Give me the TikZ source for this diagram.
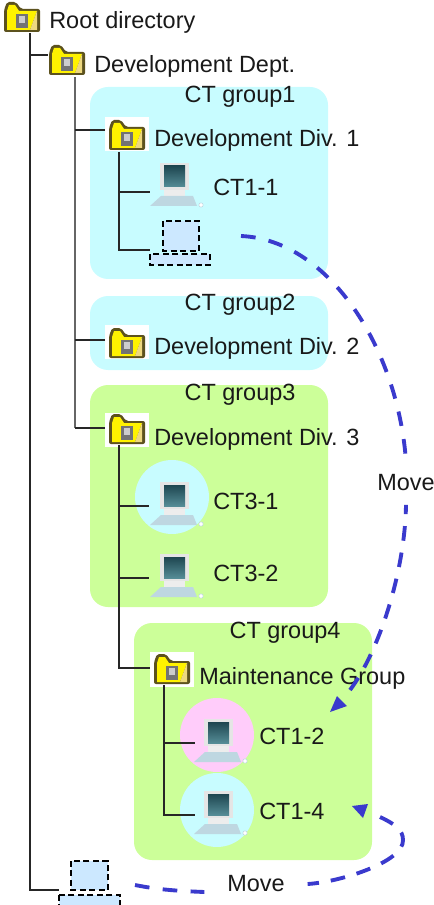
\documentclass[tikz,border=0pt]{standalone}
\usepackage{fontspec}
\setmainfont{Liberation Sans}
\usetikzlibrary{arrows.meta}
\definecolor{cyanreg}{RGB}{200,252,255}
\definecolor{greenreg}{RGB}{204,255,153}
\definecolor{pinkreg}{RGB}{255,204,250}
\definecolor{ghost}{RGB}{204,232,255}
\definecolor{movecol}{RGB}{58,58,205}
\definecolor{folderedge}{RGB}{92,82,30}
\definecolor{screentop}{RGB}{30,70,80}
\definecolor{screenbot}{RGB}{85,140,150}
\definecolor{keyb}{RGB}{190,215,225}
\tikzset{
  x=0.75pt,y=-0.75pt,
  region/.style={rounded corners=13.5pt,draw=none},
  badge/.style={circle,minimum size=55.5pt,inner sep=0,draw=none},
  label/.style={font=\fontsize{17.6}{20}\selectfont,anchor=west,inner sep=0,text=black!90},
  grouplabel/.style={font=\fontsize{17.6}{20}\selectfont,inner sep=0,text=black!90},
  anchorbox/.style={minimum width=33pt,minimum height=26pt,inner sep=0,draw=none},
  tree/.style={draw=black!85,line width=1.5pt},
  treegray/.style={draw=black!60,line width=2.2pt},
  ghostline/.style={draw=black,line width=1.1pt,dash pattern=on 4.5pt off 2.6pt,fill=ghost},
  movepath/.style={draw=movecol,line width=2.9pt,dash pattern=on 11pt off 10pt},
  movepathb/.style={draw=movecol,line width=2.9pt,dash pattern=on 11pt off 9pt},
  folder/.pic={
    \fill[folderedge,rounded corners=1.5pt] (-18,-10) -- (-15,-18) -- (-6,-18) -- (-1,-11) -- (18,-11) -- (18,12) -- (-18,12) -- cycle;
    \fill[yellow] (-15,-9) -- (-13,-15) -- (-7,-15) -- (-3,-9) -- (15,-9) -- (8,10) -- (-15,10) -- cycle;
    \fill[yellow!50!brown!60!white] (15,-9) -- (15,10) -- (8,10) -- cycle;
    \fill[black!55] (-6,-6) rectangle (6,8);
    \fill[black!20] (-3,-4) rectangle (3,3);
  },
  computer/.pic={
    \fill[black!10] (-15,-24) rectangle (14,3);
    \shade[top color=screentop,bottom color=screenbot] (-11,-21) rectangle (10,0);
    \fill[black!7] (-11,3) rectangle (10,9);
    \fill[keyb] (-14,9) -- (18,9) -- (22,19) -- (-25,19) -- cycle;
    \fill[white,draw=keyb] (26,18) circle (2.2);
  },
}
\begin{document}
\begin{tikzpicture}
\useasboundingbox (0,0) rectangle (434,905);
% regions
\fill[region,cyanreg] (90,87) rectangle (328,279);
\fill[region,cyanreg] (90,296) rectangle (328,370);
\fill[region,greenreg] (90,385) rectangle (328,607);
\fill[region,greenreg] (134,623) rectangle (372,860);
\node[badge,fill=cyanreg] (b31) at (172,497) {};
\node[badge,fill=pinkreg] (b12) at (217,735) {};
\node[badge,fill=cyanreg] (b14) at (217,810) {};
% white icon backgrounds
\fill[white] (105,117) rectangle (149,151);
\fill[white] (105,325) rectangle (149,359);
\fill[white] (105,413) rectangle (149,447);
\fill[white] (150,652) rectangle (194,687);
% icon anchors
\node[anchorbox] (root) at (22,20) {};
\node[anchorbox] (dept) at (67,63) {};
\node[anchorbox] (div1) at (127,138) {};
\node[anchorbox] (div2) at (127,346) {};
\node[anchorbox] (div3) at (127,432) {};
\node[anchorbox] (maint) at (172,672) {};
\node[anchorbox] (ct11) at (175,187) {};
\node[anchorbox] (ct31) at (175,506) {};
\node[anchorbox] (ct32) at (175,578) {};
\node[anchorbox] (ct12) at (219,743) {};
\node[anchorbox] (ct14) at (219,815) {};
% tree junctions
\coordinate (ghostA) at (150,250);
\coordinate (ghostB) at (59,890);
\coordinate (t0) at (30,33);
\coordinate (t1) at (75,77);
\coordinate (t2) at (119,152);
\coordinate (t3) at (119,445);
\coordinate (t4) at (164,685);
\coordinate (j1) at (105,130);
\coordinate (j2) at (105,340);
\coordinate (j3) at (105,428);
\coordinate (j4) at (150,668);
\coordinate (j5) at (150,192);
\coordinate (j6) at (149,506);
\coordinate (j7) at (149,578);
\coordinate (j8) at (195,743);
\coordinate (j9) at (195,815);
\coordinate (j0) at (48,55);
% tree
\draw[tree] (t0) -- (t0 |- ghostB) -- (ghostB);
\draw[tree] (t0 |- j0) -- (j0);
\draw[treegray] (t1) -- (t1 |- j3);
\draw[tree] (t1 |- j1) -- (j1);
\draw[tree] (t1 |- j2) -- (j2);
\draw[tree] (t1 |- j3) -- (j3);
\draw[tree] (t2) -- (t2 |- ghostA) -- (ghostA);
\draw[tree] (t2 |- j5) -- (j5);
\draw[tree] (t3) -- (t3 |- j4) -- (j4);
\draw[tree] (t3 |- j6) -- (j6);
\draw[tree] (t3 |- j7) -- (j7);
\draw[tree] (t4) -- (t4 |- j9) -- (j9);
\draw[tree] (t4 |- j8) -- (j8);
% icons
\pic at (root) {folder};
\pic at (dept) {folder};
\pic at (div1) {folder};
\pic at (div2) {folder};
\pic at (div3) {folder};
\pic at (maint) {folder};
\pic at (ct11) {computer};
\pic at (ct31) {computer};
\pic at (ct32) {computer};
\pic at (ct12) {computer};
\pic at (ct14) {computer};
% ghost computers
\draw[ghostline] (163,221) rectangle (199,251);
\draw[ghostline] (150,254) rectangle (210,265);
\draw[ghostline] (71,861) rectangle (108,890);
\draw[ghostline] (59,895) rectangle (120,908);
% labels
\node[label] (lroot) at (49,22) {Root directory};
\node[label] (ldept) at (94,66) {Development Dept.};
\node[grouplabel] (g1) at (240,97) {CT group1};
\node[label] (ldiv1) at (154,140) {Development Div. 1};
\node[label] (lct11) at (213,187) {CT1-1};
\node[grouplabel] (g2) at (240,305) {CT group2};
\node[label] (ldiv2) at (154,348) {Development Div. 2};
\node[grouplabel] (g3) at (240,395) {CT group3};
\node[label] (ldiv3) at (154,439) {Development Div. 3};
\node[label] (lct31) at (213,501) {CT3-1};
\node[label] (lct32) at (213,573) {CT3-2};
\node[grouplabel] (g4) at (285,633) {CT group4};
\node[label] (lmaint) at (199,678) {Maintenance Group};
\node[label] (lct12) at (259,736) {CT1-2};
\node[label] (lct14) at (259,811) {CT1-4};
% move arrows
\node[font=\fontsize{17.6}{20}\selectfont,fill=white,inner xsep=1pt,inner ysep=10pt,text=black!90] (m1) at (406,483) {Move};
\node[font=\fontsize{17.6}{20}\selectfont,fill=white,inner xsep=17pt,inner ysep=6pt,text=black!90] (m2) at (256,884) {Move};
\coordinate (s1) at (241,236);
\coordinate (e1) at (330,712);
\coordinate (s2) at (135,885);
\coordinate (e2) at (352,806);
\coordinate (n1) at (350,690);
\coordinate (n2) at (380,817);
\draw[movepath] (s1) .. controls (330,240) and (398,350) .. (m1.north);
\draw[movepathb] (n1) .. controls (380,650) and (405,570) .. (m1.south);
\fill[movecol] (e1) -- (337,696) -- (347,706) -- cycle;
\draw[movepath] (s2) .. controls (160,890) and (180,891) .. ([yshift=-6pt]m2.west);
\draw[movepathb] (n2) .. controls (395,824) and (403,830) .. (403,840) .. controls (404,862) and (340,882) .. (m2.east);
\fill[movecol] (e2) -- (368,804) -- (363,818) -- cycle;
\end{tikzpicture}
\end{document}
